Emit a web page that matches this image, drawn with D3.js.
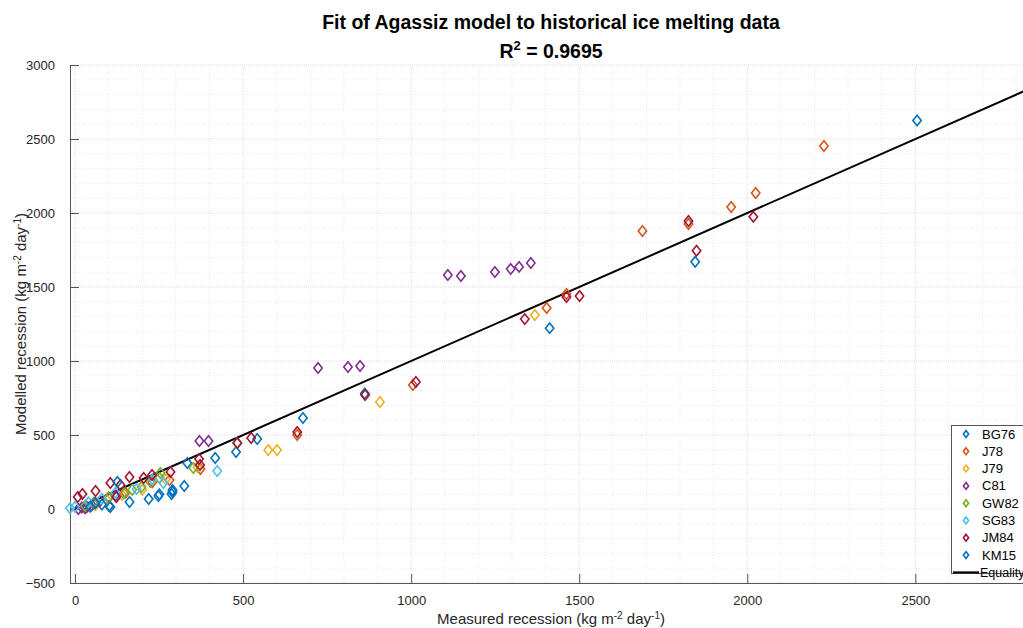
<!DOCTYPE html>
<html>
<head>
<meta charset="utf-8">
<script src="https://cdn.jsdelivr.net/npm/d3@7"></script>
<style>
  body { margin: 0; background: #fff; }
  svg { display: block; font-family: "Liberation Sans", Arial, sans-serif; }
</style>
</head>
<body>
<svg width="1023" height="628"></svg>
<script>
// series names + colours (MATLAB default order, repeats after 7)
const seriesNames = ["BG76", "J78", "J79", "C81", "GW82", "SG83", "JM84", "KM15"];
const seriesColors = ["#0072BD", "#D95319", "#EDB120", "#7E2F8E", "#77AC30", "#4DBEEE", "#A2142F", "#0072BD"];

// measured (x) / modelled (y) recession
const bg76 = [[2505, 2625], [1845, 1670], [1412, 1222], [862, 780], [678, 615], [542, 473], [479, 385],
  [417, 345], [334, 311], [325, 155], [290, 128], [248, 88], [162, 47], [101, 20], [30, 20]];
const j78 = [[2228, 2453], [2025, 2135], [1952, 2041], [1825, 1926], [1688, 1878], [1462, 1453], [1403, 1358],
  [1005, 838], [661, 500], [373, 270], [281, 196], [230, 180], [150, 110], [100, 80], [60, 45]];
const j79 = [[1368, 1311], [907, 723], [575, 399], [601, 399], [364, 284], [270, 200], [200, 130],
  [140, 95], [95, 60], [60, 25], [35, 10]];
const c81 = [[1109, 1581], [1148, 1574], [1249, 1601], [1296, 1622], [1321, 1636], [1356, 1662],
  [723, 953], [812, 959], [848, 966], [370, 459], [397, 459], [120, 90], [75, 55], [60, 40],
  [50, 25], [35, 15], [20, 10], [10, 0], [30, 5]];
const gw82 = [[352, 277], [482, 446], [224, 182], [254, 243], [251, 209], [198, 149], [145, 107],
  [170, 130], [100, 75], [55, 41], [30, 20]];
const sg83 = [[423, 257], [-15, 5], [0, 15], [263, 175], [183, 135], [230, 200], [120, 110], [80, 70], [40, 45]];
const jm84 = [[2018, 1974], [1849, 1745], [1825, 1946], [1462, 1432], [1501, 1439], [1338, 1283],
  [1014, 858], [863, 770], [661, 520], [524, 480], [483, 446], [369, 338], [372, 297], [284, 250],
  [229, 230], [204, 209], [162, 216], [135, 162], [105, 176], [123, 81], [61, 122], [22, 101], [8, 81]];
const km15 = [[290, 115], [287, 101], [219, 68], [251, 99], [126, 182], [105, 14], [60, 40], [45, 15], [80, 30]];

const allSeries = [bg76, j78, j79, c81, gw82, sg83, jm84, km15];

const xTicks = [0, 500, 1000, 1500, 2000, 2500];
const yTicks = [-500, 0, 500, 1000, 1500, 2000, 2500, 3000];

const svg = d3.select("svg");
const x = d3.scaleLinear().domain([-15, 2850]).range([70, 1033]);
const y = d3.scaleLinear().domain([-500, 3000]).range([583, 65]);
const textColor = "#262626";

svg.append("rect").attr("width", 1023).attr("height", 628).attr("fill", "#fff");

// grid: minor every 100, major at ticks
const grid = svg.append("g");
const minorX = d3.range(0, 2900, 100).filter(v => v % 500 !== 0);
const minorY = d3.range(-500, 3001, 100).filter(v => v % 500 !== 0);
grid.selectAll(".mx").data(minorX).join("line")
  .attr("x1", d => x(d)).attr("x2", d => x(d)).attr("y1", y(-500)).attr("y2", y(3000))
  .attr("stroke", "#e8e8e8").attr("stroke-dasharray", "1,2");
grid.selectAll(".my").data(minorY).join("line")
  .attr("x1", x(-15)).attr("x2", x(2850)).attr("y1", d => y(d)).attr("y2", d => y(d))
  .attr("stroke", "#e8e8e8").attr("stroke-dasharray", "1,2");
grid.selectAll(".gx").data(xTicks).join("line")
  .attr("x1", d => x(d)).attr("x2", d => x(d)).attr("y1", y(-500)).attr("y2", y(3000))
  .attr("stroke", "#dedede").attr("stroke-dasharray", "1,1");
grid.selectAll(".gy").data(yTicks).join("line")
  .attr("x1", x(-15)).attr("x2", x(2850)).attr("y1", d => y(d)).attr("y2", d => y(d))
  .attr("stroke", "#dedede").attr("stroke-dasharray", "1,1");

// axes (ticks pointing inward)
const fmt = d3.format("d");
const xAxis = svg.append("g").attr("transform", `translate(0,${y(-500)})`)
  .call(d3.axisBottom(x).tickValues(xTicks).tickFormat(fmt).tickSize(-9).tickPadding(13).tickSizeOuter(0));
const yAxis = svg.append("g").attr("transform", `translate(${x(-15)},0)`)
  .call(d3.axisLeft(y).tickValues(yTicks).tickFormat(fmt).tickSize(-9).tickPadding(15).tickSizeOuter(0));
[xAxis, yAxis].forEach(a => {
  a.select(".domain").attr("stroke", "#555");
  a.selectAll(".tick line").attr("stroke", "#555");
  a.selectAll("text").attr("fill", textColor).attr("font-size", 13)
    .attr("font-family", "Liberation Sans, Arial, sans-serif");
});

// equality line y = x
svg.append("line")
  .attr("x1", x(0)).attr("y1", y(0)).attr("x2", x(2850)).attr("y2", y(2850))
  .attr("stroke", "#000").attr("stroke-width", 2);

// markers
const diamond = (cx, cy, w, h) => `M${cx},${cy - h}L${cx + w},${cy}L${cx},${cy + h}L${cx - w},${cy}Z`;
allSeries.forEach((pts, i) => {
  svg.append("g").selectAll("path").data(pts).join("path")
    .attr("d", d => diamond(x(d[0]), y(d[1]), 4.2, 5.2))
    .attr("fill", "none")
    .attr("stroke", seriesColors[i])
    .attr("stroke-width", 1.6);
});

// legend (right side is cut by the picture edge, like the reference)
const lg = svg.append("g");
lg.append("rect").attr("x", 951.5).attr("y", 425.5).attr("width", 90).attr("height", 148)
  .attr("fill", "#fff").attr("stroke", "#555").attr("stroke-width", 1);
seriesNames.forEach((name, i) => {
  const cy = 434 + i * 17.3;
  lg.append("path").attr("d", diamond(966, cy, 2.6, 3.4))
    .attr("fill", "none").attr("stroke", seriesColors[i]).attr("stroke-width", 1.6);
  lg.append("text").attr("x", 982).attr("y", cy + 4.5).attr("font-size", 13)
    .attr("fill", "#000").text(name);
});
const ey = 434 + 8 * 17.3;
lg.append("line").attr("x1", 953).attr("x2", 979).attr("y1", ey).attr("y2", ey)
  .attr("stroke", "#000").attr("stroke-width", 2);
lg.append("text").attr("x", 980).attr("y", ey + 4.5).attr("font-size", 12.5).attr("fill", "#000").text("Equality");

// titles
const cx = 551;
svg.append("text").attr("x", cx).attr("y", 29).attr("text-anchor", "middle")
  .attr("font-size", 19.5).attr("font-weight", "bold").attr("fill", "#000")
  .text("Fit of Agassiz model to historical ice melting data");
const r2 = svg.append("text").attr("x", cx).attr("y", 58).attr("text-anchor", "middle")
  .attr("font-size", 19.5).attr("font-weight", "bold").attr("fill", "#000");
r2.append("tspan").text("R");
r2.append("tspan").attr("dy", -8).attr("font-size", 13).text("2");
r2.append("tspan").attr("dy", 8).text(" = 0.9695");

// axis labels
const xl = svg.append("text").attr("x", cx).attr("y", 624).attr("text-anchor", "middle")
  .attr("font-size", 15).attr("fill", textColor);
xl.append("tspan").text("Measured recession (kg m");
xl.append("tspan").attr("dy", -5).attr("font-size", 10).text("-2");
xl.append("tspan").attr("dy", 5).text(" day");
xl.append("tspan").attr("dy", -5).attr("font-size", 10).text("-1");
xl.append("tspan").attr("dy", 5).text(")");

const yl = svg.append("text").attr("transform", `translate(26,${y(1250)}) rotate(-90)`)
  .attr("text-anchor", "middle").attr("font-size", 15).attr("fill", textColor);
yl.append("tspan").text("Modelled recession (kg m");
yl.append("tspan").attr("dy", -5).attr("font-size", 10).text("-2");
yl.append("tspan").attr("dy", 5).text(" day");
yl.append("tspan").attr("dy", -5).attr("font-size", 10).text("-1");
yl.append("tspan").attr("dy", 5).text(")");
</script>
</body>
</html>
